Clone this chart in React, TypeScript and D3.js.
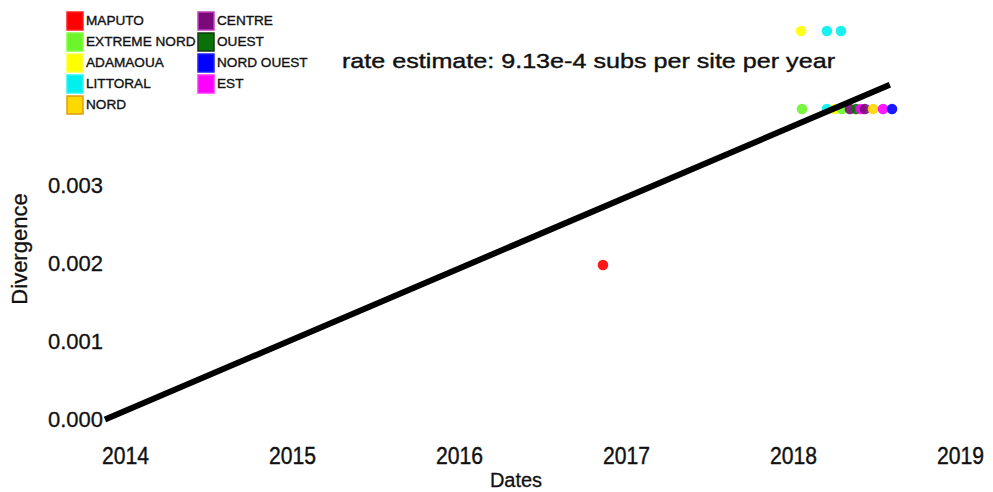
import * as d3 from "d3";

const WIDTH = 993;
const HEIGHT = 492;

// legend / region palette
const regions = ["MAPUTO", "EXTREME NORD", "ADAMAOUA", "LITTORAL", "NORD", "CENTRE", "OUEST", "NORD OUEST", "EST"];
const regionFill = ["#ff0000", "#6cf52a", "#ffff00", "#00f0f0", "#ffd800", "#7a0a7a", "#0a700a", "#0000ff", "#ff00ff"];
const regionStroke = ["#ff2020", "#80ff40", "#ffff40", "#30f4f4", "#e09a10", "#c040c0", "#103a10", "#2020ff", "#ff30ff"];

// tips: region, sampling date, root-to-tip divergence
const tipRegion = [
  "MAPUTO",
  "ADAMAOUA", "LITTORAL", "LITTORAL",
  "EXTREME NORD", "LITTORAL", "ADAMAOUA", "EXTREME NORD", "CENTRE", "OUEST", "EST", "CENTRE", "NORD", "EST", "NORD OUEST",
];
const tipDate = [
  2016.859,
  2018.045, 2018.2, 2018.284,
  2018.051, 2018.2, 2018.248, 2018.29, 2018.338, 2018.374, 2018.404, 2018.428, 2018.476, 2018.536, 2018.59,
];
const tipDivergence = [
  0.00198,
  0.00498, 0.00498, 0.00498,
  0.00398, 0.00398, 0.00398, 0.00398, 0.00398, 0.00398, 0.00398, 0.00398, 0.00398, 0.00398, 0.00398,
];

// regression line
const rate = 9.13e-4;
const rootDate = 2013.877;
const lineEndDate = 2018.577;

const xTicks = [2014, 2015, 2016, 2017, 2018, 2019];
const yTicks = [0, 0.001, 0.002, 0.003];

const FONT = "'Liberation Sans', Arial, sans-serif";
const INK = "#111";

export default function App() {
  const x = d3.scaleLinear().domain([2014, 2019]).range([125.5, 960.5]);
  const y = d3.scaleLinear().domain([0, 0.003]).range([419.5, 185.5]);
  const color = d3.scaleOrdinal<string, string>().domain(regions).range(regionFill);

  const lineData: [number, number][] = [rootDate, lineEndDate].map((d) => [d, rate * (d - rootDate)]);
  const line = d3
    .line<[number, number]>()
    .x((d) => x(d[0]))
    .y((d) => y(d[1]));

  const legendCols = [regions.slice(0, 5), regions.slice(5)];

  return (
    <div style={{ position: "absolute", left: 0, top: 0 }}>
      <svg width={WIDTH} height={HEIGHT} style={{ display: "block", background: "#fff" }} fontFamily={FONT}>
        {/* legend */}
        {legendCols.map((col, ci) =>
          col.map((name, ri) => {
            const idx = regions.indexOf(name);
            const lx = ci === 0 ? 67 : 198;
            const ly = 12 + ri * 21;
            return (
              <g key={name}>
                <rect
                  x={lx}
                  y={ly}
                  width={16}
                  height={18}
                  fill={regionFill[idx]}
                  stroke={regionStroke[idx]}
                  strokeWidth={1.5}
                />
                <text x={lx + 19} y={ly + 13} fontSize={13.6} fill={INK} stroke={INK} strokeWidth={0.35}>
                  {name}
                </text>
              </g>
            );
          })
        )}

        <text
          x={342}
          y={68}
          fontSize={21}
          fill={INK}
          stroke={INK}
          strokeWidth={0.4}
          textLength={493}
          lengthAdjust="spacingAndGlyphs"
        >
          rate estimate: 9.13e-4 subs per site per year
        </text>

        {/* points */}
        {tipDate.map((d, i) => (
          <circle
            key={i}
            cx={x(d)}
            cy={y(tipDivergence[i])}
            r={5.3}
            fill={color(tipRegion[i])}
            opacity={0.9}
          />
        ))}

        {/* regression */}
        <path d={line(lineData) ?? ""} stroke="#000" strokeWidth={6} fill="none" />

        {/* y axis labels */}
        {yTicks.map((t) => (
          <text
            key={t}
            x={103}
            y={y(t) + 7.5}
            textAnchor="end"
            fontSize={22}
            fill={INK}
            stroke={INK}
            strokeWidth={0.3}
          >
            {t.toFixed(3)}
          </text>
        ))}
        <text
          transform={`translate(27,249) rotate(-90)`}
          textAnchor="middle"
          fontSize={22}
          fill={INK}
          stroke={INK}
          strokeWidth={0.3}
        >
          Divergence
        </text>

        {/* x axis labels */}
        {xTicks.map((t) => (
          <text
            key={t}
            x={x(t)}
            y={464}
            textAnchor="middle"
            fontSize={23}
            fill={INK}
            stroke={INK}
            strokeWidth={0.4}
            textLength={47}
            lengthAdjust="spacingAndGlyphs"
          >
            {t}
          </text>
        ))}
        <text x={516} y={487} textAnchor="middle" fontSize={20} fill={INK} stroke={INK} strokeWidth={0.3}>
          Dates
        </text>
      </svg>
    </div>
  );
}
